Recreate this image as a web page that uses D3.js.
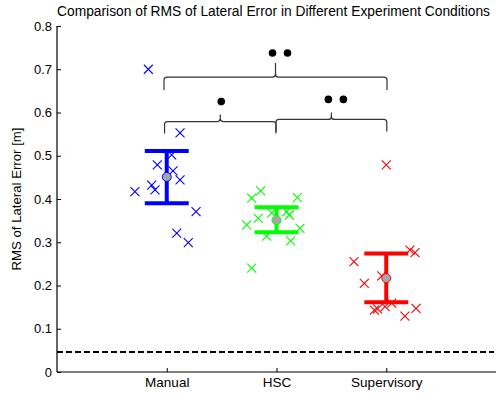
<!DOCTYPE html>
<html>
<head>
<meta charset="utf-8">
<script src="https://cdn.jsdelivr.net/npm/d3@7"></script>
<style>
  body { margin: 0; background: #fff; }
  text { font-family: Arial, "Liberation Sans", sans-serif; }
</style>
</head>
<body>
<svg id="chart"></svg>
<script>
var width = 504
var height = 395

// conditions and colours
var conditions = ["Manual", "HSC", "Supervisory"]
var colors = ["#0000ff", "#00ff00", "#ff0000"]

// individual subjects: jitter around the condition index, RMS value
var manualJitter = [-0.168, 0.121, 0.045, -0.086, 0.057, 0.121, -0.137, -0.107, -0.290, 0.267, 0.091, 0.196]
var manualRms    = [0.700, 0.553, 0.502, 0.479, 0.465, 0.444, 0.432, 0.421, 0.417, 0.371, 0.321, 0.299]
var hscJitter = [-0.144, -0.226, 0.190, -0.044, 0.093, 0.117, -0.166, -0.272, 0.214, -0.089, 0.129, -0.226]
var hscRms    = [0.419, 0.402, 0.403, 0.368, 0.371, 0.363, 0.355, 0.340, 0.332, 0.314, 0.303, 0.240]
var supJitter = [0.000, 0.216, 0.262, -0.294, -0.200, -0.041, -0.108, -0.079, -0.011, 0.050, 0.170, 0.271]
var supRms    = [0.479, 0.282, 0.276, 0.255, 0.205, 0.222, 0.143, 0.146, 0.151, 0.159, 0.129, 0.147]

// mean and error bar limits
var means = [0.451, 0.351, 0.217]
var upper = [0.511, 0.381, 0.274]
var lower = [0.390, 0.323, 0.161]

// significance brackets: from, to, height, number of dots
var brackets = [
  {from: 0.98, to: 1.995, level: 0.579, dots: 1},
  {from: 1.995, to: 3.005, level: 0.584, dots: 2},
  {from: 0.975, to: 3.007, level: 0.682, dots: 2}
]

var threshold = 0.046
var yTicks = [0, 0.1, 0.2, 0.3, 0.4, 0.5, 0.6, 0.7, 0.8]

var margin = {top: 26, right: 8, bottom: 23, left: 57}

var svg = d3.select("#chart")
    .attr("width", width)
    .attr("height", height)

var x = d3.scaleLinear().domain([0, 4]).range([margin.left, width - margin.right])
var y = d3.scaleLinear().domain([0, 0.8]).range([height - margin.bottom, margin.top])

// axes
var yAxis = svg.append("g")
    .attr("transform", "translate(" + margin.left + ",0)")
    .call(d3.axisRight(y).tickValues(yTicks).tickSize(4).tickFormat(d => d === 0 ? "0" : d3.format(".1f")(d)))
yAxis.selectAll("text").attr("x", -5).attr("text-anchor", "end").attr("font-size", 13).attr("fill", "#000")
yAxis.select(".domain").attr("d", "M0," + y(0.8) + "V" + y(0)).attr("stroke-width", 1.2)

var xAxis = svg.append("g")
    .attr("transform", "translate(0," + y(0) + ")")
    .call(d3.axisTop(x).tickValues([1, 2, 3]).tickSize(4).tickFormat((d, i) => conditions[i]))
xAxis.selectAll("text").attr("y", 5).attr("dy", "0.71em").attr("font-size", 13.5).attr("fill", "#000")
xAxis.select(".domain").attr("d", "M" + x(0) + ",0H" + x(4)).attr("stroke-width", 1.2)

svg.append("text")
    .attr("x", x(2) - 3)
    .attr("y", 16)
    .attr("text-anchor", "middle")
    .attr("font-size", 13.8)
    .text("Comparison of RMS of Lateral Error in Different Experiment Conditions")

svg.append("text")
    .attr("transform", "translate(21," + y(0.4) + ") rotate(-90)")
    .attr("text-anchor", "middle")
    .attr("font-size", 13.2)
    .text("RMS of Lateral Error [m]")

// dashed reference line
svg.append("line")
    .attr("x1", x(0)).attr("x2", x(4) - 2)
    .attr("y1", y(threshold)).attr("y2", y(threshold))
    .attr("stroke", "#000")
    .attr("stroke-width", 2)
    .attr("stroke-dasharray", "6,3")

// scatter of subjects
var groups = [
  {jit: manualJitter, rms: manualRms},
  {jit: hscJitter, rms: hscRms},
  {jit: supJitter, rms: supRms}
]
var s = 4.5
groups.forEach(function(g, gi) {
  var pts = g.rms.map((v, i) => ({cx: x(gi + 1 + g.jit[i]), cy: y(v)}))
  svg.append("g")
    .selectAll("path")
    .data(pts)
    .enter()
    .append("path")
    .attr("d", d => "M" + (d.cx - s) + "," + (d.cy - s) + "L" + (d.cx + s) + "," + (d.cy + s) +
                    "M" + (d.cx - s) + "," + (d.cy + s) + "L" + (d.cx + s) + "," + (d.cy - s))
    .attr("stroke", colors[gi])
    .attr("stroke-width", 1.1)
    .attr("fill", "none")
})

// error bars with mean
var capHalf = 0.2
conditions.forEach(function(c, i) {
  var g = svg.append("g").attr("stroke", colors[i]).attr("stroke-width", 4)
  g.append("line").attr("x1", x(i + 1)).attr("x2", x(i + 1)).attr("y1", y(upper[i])).attr("y2", y(lower[i]))
  g.append("line").attr("x1", x(i + 1 - capHalf)).attr("x2", x(i + 1 + capHalf)).attr("y1", y(upper[i])).attr("y2", y(upper[i]))
  g.append("line").attr("x1", x(i + 1 - capHalf)).attr("x2", x(i + 1 + capHalf)).attr("y1", y(lower[i])).attr("y2", y(lower[i]))
  svg.append("circle")
    .attr("cx", x(i + 1)).attr("cy", y(means[i]))
    .attr("r", 4.5)
    .attr("fill", "#a6a6a6")
    .attr("stroke", colors[i])
    .attr("stroke-width", 1)
})

// significance brackets
function bracePath(x1, x2, yh, tip, notch) {
  var xc = (x1 + x2) / 2, r = 3
  return "M" + x1 + "," + (yh + tip) + "L" + x1 + "," + (yh + r) +
    "Q" + x1 + "," + yh + " " + (x1 + r) + "," + yh +
    "L" + (xc - r) + "," + yh + "Q" + xc + "," + yh + " " + xc + "," + (yh - r) +
    "L" + xc + "," + (yh - notch) +
    "M" + xc + "," + (yh - r) + "Q" + xc + "," + yh + " " + (xc + r) + "," + yh +
    "L" + (x2 - r) + "," + yh + "Q" + x2 + "," + yh + " " + x2 + "," + (yh + r) +
    "L" + x2 + "," + (yh + tip)
}
brackets.forEach(function(b) {
  var x1 = x(b.from), x2 = x(b.to), yh = y(b.level)
  var top = b.level > 0.65
  svg.append("path")
    .attr("d", bracePath(x1, x2, yh, top ? 13 : 12, top ? 14 : 7))
    .attr("fill", "none")
    .attr("stroke", "#333")
    .attr("stroke-width", 1.2)
  var xc = (x1 + x2) / 2
  var offs = b.dots === 1 ? [1] : [-3, 12]
  offs.forEach(function(o) {
    svg.append("circle")
      .attr("cx", xc + o)
      .attr("cy", yh - (top ? 24 : 20))
      .attr("r", 3.8)
      .attr("fill", "#000")
  })
})
</script>
</body>
</html>
